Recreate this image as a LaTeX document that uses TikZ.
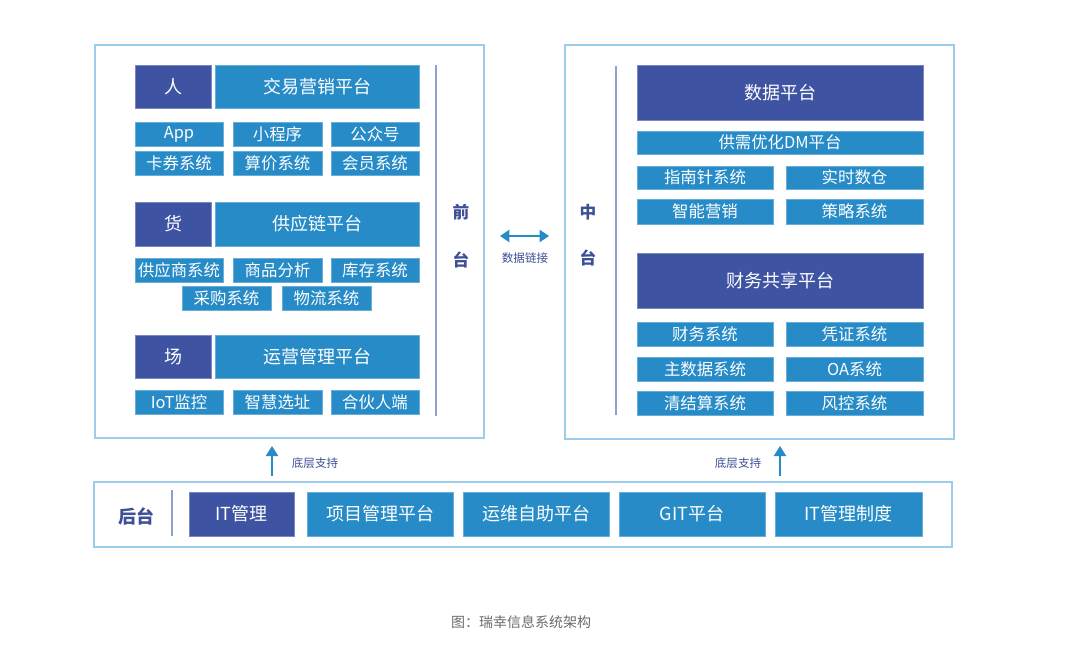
\documentclass[tikz,border=0pt]{standalone}
\usepackage{fontspec}
\setmainfont{Noto Sans CJK SC}
\usetikzlibrary{arrows.meta}
\definecolor{darkb}{HTML}{3E54A3}
\definecolor{lightb}{HTML}{268BC7}
\definecolor{framec}{HTML}{9CCDEC}
\definecolor{vline}{HTML}{8E9FD6}
\definecolor{labc}{HTML}{3E4F96}
\definecolor{capc}{HTML}{6B6B6B}
\tikzset{
  dbox/.style={fill=darkb, draw=darkb!70!white, line width=0.4pt, text=white, inner sep=0pt, outer sep=0pt, font=\fontsize{13.5}{15}\selectfont},
  lbox/.style={fill=lightb, draw=lightb!70!white, line width=0.4pt, text=white, inner sep=0pt, outer sep=0pt, font=\fontsize{13.5}{15}\selectfont},
  sbox/.style={lbox, font=\fontsize{12.3}{14}\selectfont},
  frame/.style={draw=framec, line width=1.1pt, fill=white, inner sep=0pt, outer sep=0pt},
  side/.style={text=labc, font=\bfseries\fontsize{12.5}{14}\selectfont},
  small/.style={text=labc, font=\fontsize{8.7}{10}\selectfont},
  arr/.style={draw=lightb, line width=1.5pt, -{Triangle[length=7.5pt,width=9pt]}},
  darr/.style={draw=lightb, line width=1.5pt, {Triangle[length=7pt,width=9pt]}-{Triangle[length=7pt,width=9pt]}},
}
\newcommand\bx[7]{\node[#2, minimum width={(#5-#3)*0.75pt}, minimum height={(#6-#4)*0.75pt}] (#1) at ({(#3+#5)/2},{(#4+#6)/2}) {#7};}
\begin{document}
\begin{tikzpicture}[x=0.75pt, y=-0.75pt]
\useasboundingbox (0,0) rectangle (1080,656);
\fill[white] (0,0) rectangle (1080,656);
% frames
\bx{front}{frame}{95}{45}{484}{438}{}
\bx{mid}{frame}{565}{45}{954}{439}{}
\bx{back}{frame}{94}{482}{952}{547}{}
% front platform
\bx{ren}{dbox}{135}{65}{211}{108}{人}
\bx{jy}{lbox}{215}{65}{419}{108}{交易营销平台}
\bx{app}{sbox}{135}{122}{223}{146}{App}
\bx{xcx}{sbox}{233}{122}{322}{146}{小程序}
\bx{gzh}{sbox}{331}{122}{419}{146}{公众号}
\bx{kq}{sbox}{135}{151}{223}{175}{卡券系统}
\bx{sj}{sbox}{233}{151}{322}{175}{算价系统}
\bx{hy}{sbox}{331}{151}{419}{175}{会员系统}
\bx{huo}{dbox}{135}{202}{211}{246}{货}
\bx{gyl}{lbox}{215}{202}{419}{246}{供应链平台}
\bx{gys}{sbox}{135}{258}{223}{282}{供应商系统}
\bx{spfx}{sbox}{233}{258}{322}{282}{商品分析}
\bx{kc}{sbox}{331}{258}{419}{282}{库存系统}
\bx{cg}{sbox}{182}{286}{271}{310}{采购系统}
\bx{wl}{sbox}{282}{286}{371}{310}{物流系统}
\bx{chang}{dbox}{135}{335}{211}{378}{场}
\bx{yy}{lbox}{215}{335}{419}{378}{运营管理平台}
\bx{iot}{sbox}{135}{390}{223}{414}{IoT监控}
\bx{zh}{sbox}{233}{390}{322}{414}{智慧选址}
\bx{hhr}{sbox}{331}{390}{419}{414}{合伙人端}
\draw[vline, line width=1.5pt] (436,65) -- (436,416);
\node[side] (qian) at (461,212) {前};
\node[side] (tai1) at (461,260) {台};
% middle platform
\draw[vline, line width=1.5pt] (616,66) -- (616,415);
\node[side] (zhong) at (588,212) {中};
\node[side] (tai2) at (588,258) {台};
\bx{sjpt}{dbox}{637}{65}{923}{120}{数据平台}
\bx{dm}{sbox}{637}{131}{923}{154}{供需优化DM平台}
\bx{znz}{sbox}{637}{166}{773}{189}{指南针系统}
\bx{sssc}{sbox}{786}{166}{923}{189}{实时数仓}
\bx{znyx}{sbox}{637}{199}{773}{224}{智能营销}
\bx{cl}{sbox}{786}{199}{923}{224}{策略系统}
\bx{cw}{dbox}{637}{253}{923}{308}{财务共享平台}
\bx{cwxt}{sbox}{637}{322}{773}{346}{财务系统}
\bx{pz}{sbox}{786}{322}{923}{346}{凭证系统}
\bx{zsj}{sbox}{637}{357}{773}{381}{主数据系统}
\bx{oa}{sbox}{786}{357}{923}{381}{OA系统}
\bx{qjs}{sbox}{637}{391}{773}{415}{清结算系统}
\bx{fk}{sbox}{786}{391}{923}{415}{风控系统}
% back platform
\node[side, font=\bfseries\fontsize{13.5}{15}\selectfont] (htai) at (136,516) {后台};
\draw[vline, line width=1.2pt] (172,490) -- (172,536);
\bx{itgl}{dbox}{189}{492}{294}{536}{IT管理}
\bx{xm}{lbox}{307}{492}{453}{536}{项目管理平台}
\bx{yw}{lbox}{463}{492}{609}{536}{运维自助平台}
\bx{git}{lbox}{619}{492}{765}{536}{GIT平台}
\bx{itzd}{lbox}{775}{492}{922}{536}{IT管理制度}
% connectors
\coordinate (dl) at (500,236);
\coordinate (dr) at (549,236);
\draw[darr] (dl) -- (dr);
\node[small] (sjlj) at (525,258) {数据链接};
\coordinate (a1s) at (272,476);
\coordinate (a1e) at (272,446);
\draw[arr] (a1s) -- (a1e);
\node[small] (dc1) at (315,463) {底层支持};
\coordinate (a2s) at (780,476);
\coordinate (a2e) at (780,446);
\draw[arr] (a2s) -- (a2e);
\node[small] (dc2) at (738,463) {底层支持};
% caption
\node[text=capc, font=\fontsize{10.5}{12}\selectfont] (cap) at (521,622) {图：瑞幸信息系统架构};
\end{tikzpicture}
\end{document}
